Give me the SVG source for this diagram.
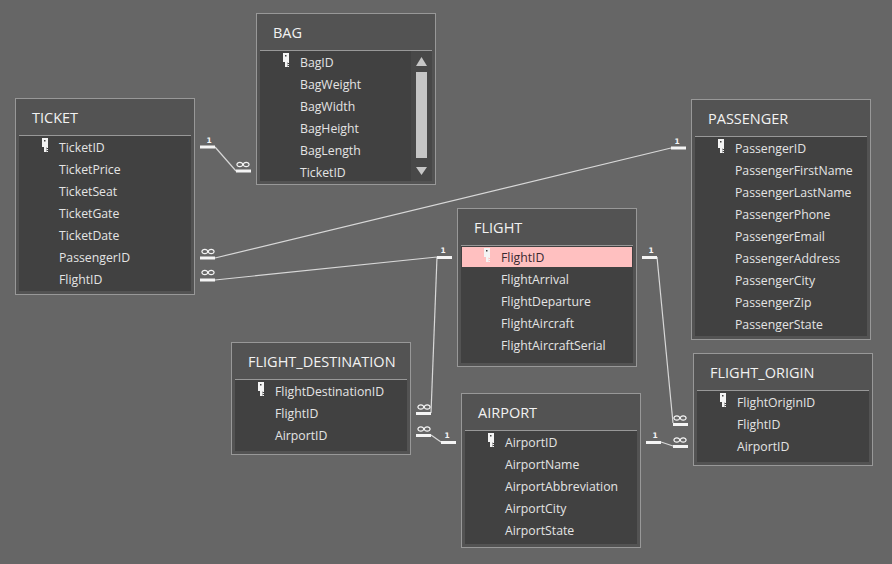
<svg xmlns="http://www.w3.org/2000/svg" width="892" height="564" viewBox="0 0 892 564">
<style>
text{font-family:"Open Sans","Noto Sans","Liberation Sans",sans-serif}
.box{fill:#535353;stroke:#989898;stroke-width:1}
.list{fill:#414141}
.sep{stroke:#989898;stroke-width:1}
.title{font-size:14.5px;fill:#f2f2f2}
.f{font-size:12.25px;fill:#e4e4e4}
.con{fill:none;stroke:#d8d8d8;stroke-width:1.2}
.bar{fill:#f4f4f4}
.n{font-family:"DejaVu Sans",sans-serif;font-size:7.5px;font-weight:bold;fill:#f4f4f4;text-anchor:middle}
.k{fill:#f4f4f4}
</style>
<defs>
<g id="key"><rect x="0" y="0" width="6" height="9" class="k"/><rect x="2" y="9" width="2.500" height="5" class="k"/><rect x="4.500" y="9" width="1.500" height="1" class="k"/><rect x="4.500" y="11" width="1.500" height="1" class="k"/><rect x="4.500" y="13" width="1.500" height="1" class="k"/><rect x="2" y="2" width="1.500" height="1.500" fill="#414141"/></g>
<g id="inf"><ellipse cx="-3.200" cy="0" rx="2.900" ry="2.100" fill="none" stroke="#f4f4f4" stroke-width="1.200"/><ellipse cx="3.200" cy="0" rx="2.900" ry="2.100" fill="none" stroke="#f4f4f4" stroke-width="1.200"/></g>
</defs>
<rect width="892" height="564" fill="#666666"/>
<g id="connectors">
<path class="con" d="M215 147L236 171"/>
<path class="con" d="M215 258L671 148"/>
<path class="con" d="M215 280L437 257"/>
<path class="con" d="M437 257L431 413"/>
<path class="con" d="M657 257L673 423"/>
<path class="con" d="M431 435L441 442"/>
<path class="con" d="M661 442L673 446"/>
<g>
<rect class="bar" x="200" y="145.500" width="15" height="3"/><rect class="bar" x="236" y="169.500" width="15" height="3"/>
<rect class="bar" x="200" y="256.500" width="15" height="3"/><rect class="bar" x="200" y="278.500" width="15" height="3"/>
<rect class="bar" x="671" y="146.500" width="15" height="3"/>
<rect class="bar" x="437" y="256" width="15" height="3"/><rect class="bar" x="642" y="256" width="15" height="3"/>
<rect class="bar" x="416" y="412" width="15" height="3"/><rect class="bar" x="416" y="434" width="15" height="3"/>
<rect class="bar" x="441" y="441" width="15" height="3"/><rect class="bar" x="646" y="441" width="15" height="3"/>
<rect class="bar" x="673" y="423" width="15" height="3"/><rect class="bar" x="673" y="445" width="15" height="3"/>
</g>
<text class="n" x="209" y="143">1</text><text class="n" x="677" y="144">1</text>
<text class="n" x="443" y="253">1</text><text class="n" x="651" y="253">1</text>
<text class="n" x="447" y="438">1</text><text class="n" x="655" y="438">1</text>
<use href="#inf" x="243" y="164.500"/><use href="#inf" x="208" y="251.500"/><use href="#inf" x="208" y="272.500"/>
<use href="#inf" x="424" y="407"/><use href="#inf" x="424" y="429"/>
<use href="#inf" x="680" y="418"/><use href="#inf" x="680" y="440"/>
</g>
<g id="ticket">
<rect class="box" x="15.500" y="98.500" width="179" height="196"/>
<rect class="list" x="19" y="136" width="172" height="155"/>
<line class="sep" x1="19" y1="135.500" x2="191" y2="135.500"/>
<text class="title" x="32" y="123">TICKET</text>
<use href="#key" x="42" y="138"/>
<text class="f" x="59" y="152">TicketID</text><text class="f" x="59" y="174">TicketPrice</text><text class="f" x="59" y="196">TicketSeat</text><text class="f" x="59" y="218">TicketGate</text><text class="f" x="59" y="240">TicketDate</text><text class="f" x="59" y="262">PassengerID</text><text class="f" x="59" y="284">FlightID</text>
</g>
<g id="bag">
<rect class="box" x="256.500" y="13.500" width="179" height="171"/>
<rect class="list" x="260" y="51" width="172" height="130"/>
<line class="sep" x1="260" y1="50.500" x2="432" y2="50.500"/>
<rect x="411" y="51" width="21" height="130" fill="#484848"/>
<rect x="416" y="72" width="11" height="86" fill="#c6c6c6"/>
<polygon points="416,66 427,66 421.500,57" fill="#c6c6c6"/>
<polygon points="416,167 427,167 421.500,175" fill="#c6c6c6"/>
<text class="title" x="273" y="38">BAG</text>
<use href="#key" x="283" y="53"/>
<text class="f" x="300" y="67">BagID</text><text class="f" x="300" y="89">BagWeight</text><text class="f" x="300" y="111">BagWidth</text><text class="f" x="300" y="133">BagHeight</text><text class="f" x="300" y="155">BagLength</text><text class="f" x="300" y="177">TicketID</text>
</g>
<g id="passenger">
<rect class="box" x="691.500" y="99.500" width="179" height="240"/>
<rect class="list" x="695" y="137" width="172" height="199"/>
<line class="sep" x1="695" y1="136.500" x2="867" y2="136.500"/>
<text class="title" x="708" y="124">PASSENGER</text>
<use href="#key" x="718" y="139"/>
<text class="f" x="735" y="153">PassengerID</text><text class="f" x="735" y="175">PassengerFirstName</text><text class="f" x="735" y="197">PassengerLastName</text><text class="f" x="735" y="219">PassengerPhone</text><text class="f" x="735" y="241">PassengerEmail</text><text class="f" x="735" y="263">PassengerAddress</text><text class="f" x="735" y="285">PassengerCity</text><text class="f" x="735" y="307">PassengerZip</text><text class="f" x="735" y="329">PassengerState</text>
</g>
<g id="flight">
<rect class="box" x="457.500" y="208.500" width="179" height="158"/>
<rect class="list" x="461" y="246" width="172" height="117"/>
<line class="sep" x1="461" y1="245.500" x2="633" y2="245.500"/>
<rect x="462" y="247" width="170" height="20" fill="#ffc0c0"/>
<text class="title" x="474" y="233">FLIGHT</text>
<use href="#key" x="484" y="248"/>
<text class="f" x="501" y="262" style="fill:#3a2a30">FlightID</text><text class="f" x="501" y="284">FlightArrival</text><text class="f" x="501" y="306">FlightDeparture</text><text class="f" x="501" y="328">FlightAircraft</text><text class="f" x="501" y="350">FlightAircraftSerial</text>
</g>
<g id="flight_destination">
<rect class="box" x="231.500" y="342.500" width="179" height="112"/>
<rect class="list" x="235" y="380" width="172" height="71"/>
<line class="sep" x1="235" y1="379.500" x2="407" y2="379.500"/>
<text class="title" x="248" y="367">FLIGHT_DESTINATION</text>
<use href="#key" x="258" y="382"/>
<text class="f" x="275" y="396">FlightDestinationID</text><text class="f" x="275" y="418">FlightID</text><text class="f" x="275" y="440">AirportID</text>
</g>
<g id="airport">
<rect class="box" x="461.500" y="393.500" width="179" height="154"/>
<rect class="list" x="465" y="431" width="172" height="113"/>
<line class="sep" x1="465" y1="430.500" x2="637" y2="430.500"/>
<text class="title" x="478" y="418">AIRPORT</text>
<use href="#key" x="488" y="433"/>
<text class="f" x="505" y="447">AirportID</text><text class="f" x="505" y="469">AirportName</text><text class="f" x="505" y="491">AirportAbbreviation</text><text class="f" x="505" y="513">AirportCity</text><text class="f" x="505" y="535">AirportState</text>
</g>
<g id="flight_origin">
<rect class="box" x="693.500" y="353.500" width="179" height="112"/>
<rect class="list" x="697" y="391" width="172" height="71"/>
<line class="sep" x1="697" y1="390.500" x2="869" y2="390.500"/>
<text class="title" x="710" y="378">FLIGHT_ORIGIN</text>
<use href="#key" x="720" y="393"/>
<text class="f" x="737" y="407">FlightOriginID</text><text class="f" x="737" y="429">FlightID</text><text class="f" x="737" y="451">AirportID</text>
</g>
</svg>
